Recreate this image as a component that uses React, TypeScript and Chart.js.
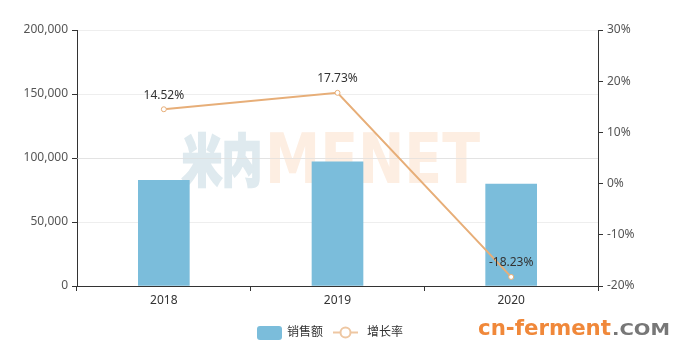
import React, { useEffect, useRef } from "react";
import { Chart, registerables } from "chart.js";

Chart.register(...registerables);

const categories = ["2018", "2019", "2020"];
const salesValues = [82600, 97100, 79700];
const growthRates = [14.52, 17.73, -18.23];
const seriesNames = ["销售额", "增长率"];

const BAR_COLOR = "#7bbddb";
const LINE_COLOR = "#e7ae78";
const TEXT_COLOR = "#555";
const FONT_FAMILY = "'Noto Sans', 'Noto Sans CJK SC', sans-serif";

function fitText(ctx: CanvasRenderingContext2D, text: string, x: number, y: number, w: number, stroke = 0) {
  const m = ctx.measureText(text).width;
  ctx.save();
  ctx.translate(x, y);
  ctx.scale(w / m, 1);
  if (stroke > 0) {
    ctx.lineWidth = stroke;
    ctx.lineJoin = "miter";
    ctx.strokeStyle = ctx.fillStyle as string;
    ctx.strokeText(text, 0, 0);
  }
  ctx.fillText(text, 0, 0);
  ctx.restore();
}

const decorPlugin = {
  id: "decor",
  beforeDatasetsDraw(chart: any) {
    const ctx = chart.ctx as CanvasRenderingContext2D;
    ctx.save();
    ctx.textBaseline = "alphabetic";
    ctx.textAlign = "left";
    ctx.fillStyle = "#dfeaef";
    ctx.font = "900 56px 'Noto Sans CJK SC'";
    fitText(ctx, "米内", 182, 181, 80, 2.5);
    ctx.fillStyle = "#fdeee2";
    ctx.font = "bold 70px 'DejaVu Sans'";
    fitText(ctx, "MENET", 265, 183, 215);
    // faint grid line over watermark
    const y = chart.scales.y.getPixelForValue(100000);
    ctx.strokeStyle = "rgba(220,220,220,0.6)";
    ctx.lineWidth = 1;
    ctx.beginPath();
    ctx.moveTo(chart.chartArea.left, Math.round(y) + 0.5);
    ctx.lineTo(chart.chartArea.right, Math.round(y) + 0.5);
    ctx.stroke();
    ctx.restore();
  },
  afterDatasetsDraw(chart: any) {
    const ctx = chart.ctx as CanvasRenderingContext2D;
    const meta = chart.getDatasetMeta(1);
    ctx.save();
    ctx.font = `12px ${FONT_FAMILY}`;
    ctx.fillStyle = "#333";
    ctx.textAlign = "center";
    ctx.textBaseline = "middle";
    meta.data.forEach((pt: any, i: number) => {
      ctx.fillText(growthRates[i].toFixed(2) + "%", pt.x, pt.y - 14);
    });
    ctx.restore();
  },
  afterDraw(chart: any) {
    const ctx = chart.ctx as CanvasRenderingContext2D;
    ctx.save();
    // legend
    const cy = 332.5;
    ctx.fillStyle = BAR_COLOR;
    ctx.beginPath();
    (ctx as any).roundRect(257, 326, 25, 14, 3);
    ctx.fill();
    ctx.font = `12px ${FONT_FAMILY}`;
    ctx.fillStyle = "#333";
    ctx.textAlign = "left";
    ctx.textBaseline = "middle";
    ctx.fillText(seriesNames[0], 287, cy);
    ctx.strokeStyle = "#eec7a2";
    ctx.lineWidth = 2;
    ctx.beginPath();
    ctx.moveTo(333, cy);
    ctx.lineTo(358, cy);
    ctx.stroke();
    ctx.beginPath();
    ctx.arc(345.5, cy, 5, 0, Math.PI * 2);
    ctx.fillStyle = "#fff";
    ctx.fill();
    ctx.stroke();
    ctx.fillStyle = "#333";
    ctx.fillText(seriesNames[1], 367, cy);
    // site mark
    ctx.textBaseline = "alphabetic";
    ctx.fillStyle = "#f0883a";
    ctx.font = "bold 22px 'DejaVu Sans'";
    fitText(ctx, "cn-ferment", 478, 335, 133);
    ctx.fillStyle = "#777";
    ctx.font = "bold 15px 'DejaVu Sans'";
    fitText(ctx, ".COM", 612, 335, 58);
    ctx.restore();
  },
};

export default function App() {
  const ref = useRef<HTMLCanvasElement | null>(null);
  useEffect(() => {
    if (!ref.current) return;
    const tickFont = { size: 12, family: FONT_FAMILY };
    const chart = new Chart(ref.current, {
      type: "bar",
      data: {
        labels: categories,
        datasets: [
          {
            type: "bar",
            label: seriesNames[0],
            data: salesValues,
            backgroundColor: BAR_COLOR,
            barThickness: 51,
            yAxisID: "y",
            order: 1,
          },
          {
            type: "line",
            label: seriesNames[1],
            data: growthRates,
            borderColor: LINE_COLOR,
            borderWidth: 2,
            pointRadius: 2.5,
            pointBackgroundColor: "#fff",
            pointBorderColor: LINE_COLOR,
            pointBorderWidth: 1,
            tension: 0,
            yAxisID: "y1",
            order: 0,
          },
        ] as any,
      },
      plugins: [decorPlugin],
      options: {
        animation: false,
        responsive: false,
        layout: { padding: { top: 30, left: 0, right: 0, bottom: 0 } },
        plugins: { legend: { display: false }, tooltip: { enabled: false } },
        scales: {
          x: {
            grid: { offset: true, drawOnChartArea: false, drawTicks: true, tickLength: 5, tickColor: "#333" },
            border: { color: "#333", width: 1 },
            ticks: { color: "#333", font: tickFont, padding: 2 },
            afterFit: (s: any) => { s.height = 66; },
          },
          y: {
            position: "left",
            min: 0,
            max: 200000,
            ticks: {
              stepSize: 50000,
              color: TEXT_COLOR,
              font: tickFont,
              padding: 4,
              callback: (v: any) => Number(v).toLocaleString("en-US"),
            },
            grid: { color: "#eeeeee", tickColor: "#333", tickLength: 5 },
            border: { color: "#333", width: 1 },
            afterFit: (s: any) => { s.width = 77; },
          },
          y1: {
            position: "right",
            min: -20,
            max: 30,
            ticks: {
              stepSize: 10,
              color: TEXT_COLOR,
              font: tickFont,
              padding: 4,
              callback: (v: any) => v + "%",
            },
            grid: { drawOnChartArea: false, tickColor: "#333", tickLength: 5 },
            border: { color: "#333", width: 1 },
            afterFit: (s: any) => { s.width = 85; },
          },
        },
      } as any,
    });
    return () => chart.destroy();
  }, []);
  return (
    <div style={{ position: "absolute", left: 0, top: 0, width: 683, height: 352, background: "#fff" }}>
      <canvas ref={ref} width={683} height={352} />
    </div>
  );
}
